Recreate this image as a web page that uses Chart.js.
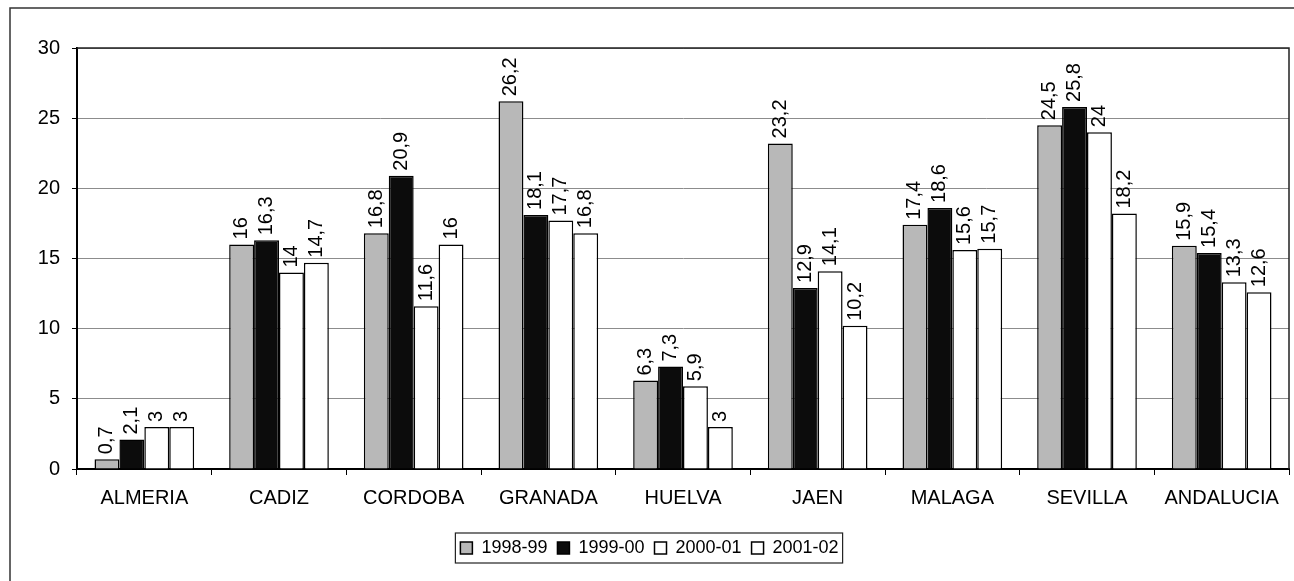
<!DOCTYPE html>
<html>
<head>
<meta charset="utf-8">
<script src="https://cdn.jsdelivr.net/npm/chart.js@4/dist/chart.umd.min.js"></script>
<style>
  html, body { margin: 0; padding: 0; background: #fff; }
  #wrap { width: 1294px; height: 581px; }
</style>
</head>
<body>
<div id="wrap"><canvas id="myChart" width="1294" height="581"></canvas></div>
<script>
// provinces
const categories = ['ALMERIA', 'CADIZ', 'CORDOBA', 'GRANADA', 'HUELVA', 'JAEN', 'MALAGA', 'SEVILLA', 'ANDALUCIA']

// series, one per school year
const s1998 = [0.7, 16, 16.8, 26.2, 6.3, 23.2, 17.4, 24.5, 15.9]
const s1999 = [2.1, 16.3, 20.9, 18.1, 7.3, 12.9, 18.6, 25.8, 15.4]
const s2000 = [3, 14, 11.6, 17.7, 5.9, 14.1, 15.6, 24, 13.3]
const s2001 = [3, 14.7, 16, 16.8, 3, 10.2, 15.7, 18.2, 12.6]

const seriesNames = ['1998-99', '1999-00', '2000-01', '2001-02']
const yTicks = [0, 5, 10, 15, 20, 25, 30]

const FONT = "'Liberation Sans', Arial, sans-serif"

// value labels written vertically above each bar
const barLabels = {
  id: 'barLabels',
  afterDatasetsDraw(chart) {
    const ctx = chart.ctx
    ctx.save()
    ctx.font = '20px ' + FONT
    ctx.fillStyle = '#000'
    ctx.textAlign = 'left'
    ctx.textBaseline = 'middle'
    chart.data.datasets.forEach((ds, i) => {
      const meta = chart.getDatasetMeta(i)
      meta.data.forEach((bar, j) => {
        const txt = String(ds.data[j]).replace('.', ',')
        ctx.save()
        ctx.translate(bar.x, bar.y - 5)
        ctx.rotate(-Math.PI / 2)
        ctx.fillText(txt, 0, 0)
        ctx.restore()
      })
    })
    ctx.restore()
  }
}

// frame lines: outer border, plot area top/right, legend box
const frames = {
  id: 'frames',
  beforeDraw(chart) {
    const ctx = chart.ctx
    ctx.save()
    ctx.fillStyle = '#fff'
    ctx.fillRect(0, 0, chart.width, chart.height)
    ctx.restore()
  },
  afterDraw(chart) {
    const ctx = chart.ctx
    const a = chart.chartArea
    ctx.save()
    ctx.strokeStyle = '#333'
    ctx.lineWidth = 1.5
    ctx.beginPath()
    ctx.moveTo(10, chart.height)
    ctx.lineTo(10, 8)
    ctx.lineTo(chart.width, 8)
    ctx.stroke()

    ctx.strokeStyle = '#222'
    ctx.lineWidth = 1.5
    ctx.beginPath()
    ctx.moveTo(a.left, a.top)
    ctx.lineTo(a.right, a.top)
    ctx.lineTo(a.right, a.bottom)
    ctx.stroke()

    const boxes = chart.legend.legendHitBoxes
    if (boxes && boxes.length) {
      let l = Infinity, r = -Infinity, t = Infinity, b = -Infinity
      boxes.forEach(h => {
        l = Math.min(l, h.left); r = Math.max(r, h.left + h.width)
        t = Math.min(t, h.top); b = Math.max(b, h.top + h.height)
      })
      ctx.strokeStyle = '#222'
      ctx.lineWidth = 1.2
      ctx.strokeRect(l - 5, t - 6, r - l + 9, b - t + 12)
    }
    ctx.restore()
  }
}

const data = {
  labels: categories,
  datasets: [
    { label: seriesNames[0], data: s1998, backgroundColor: '#b8b8b8', borderColor: '#000', borderWidth: 1.5 },
    { label: seriesNames[1], data: s1999, backgroundColor: '#0c0c0c', borderColor: '#000', borderWidth: 1.5 },
    { label: seriesNames[2], data: s2000, backgroundColor: '#fff', borderColor: '#000', borderWidth: 1.5 },
    { label: seriesNames[3], data: s2001, backgroundColor: '#fff', borderColor: '#000', borderWidth: 1.5 }
  ]
}

const config = {
  type: 'bar',
  data: data,
  options: {
    responsive: false,
    animation: false,
    devicePixelRatio: 1,
    layout: { padding: { left: 10, top: 48, right: 5, bottom: 14 } },
    datasets: { bar: { barPercentage: 1, categoryPercentage: 0.74 } },
    plugins: {
      legend: {
        position: 'bottom',
        labels: {
          color: '#000',
          font: { family: FONT, size: 18 },
          boxWidth: 12,
          boxHeight: 12,
          padding: 10
        }
      },
      tooltip: { enabled: false }
    },
    scales: {
      x: {
        grid: { drawOnChartArea: false, drawTicks: true, tickLength: 6, color: '#000', offset: true },
        border: { color: '#000', width: 2 },
        ticks: { color: '#000', font: { family: FONT, size: 20 }, padding: 11, maxRotation: 0 },
        afterFit(scale) { scale.height = 60 }
      },
      y: {
        min: 0,
        max: 30,
        afterBuildTicks(scale) { scale.ticks = yTicks.map(v => ({ value: v })) },
        grid: {
          color: (c) => c.tick && c.tick.value === 0 ? '#000' : '#8c8c8c',
          tickColor: '#000',
          tickLength: 5,
          lineWidth: 1
        },
        border: { color: '#000', width: 2 },
        ticks: { color: '#000', font: { family: FONT, size: 20 }, padding: 12 },
        afterFit(scale) { scale.width = 67 }
      }
    }
  },
  plugins: [frames, barLabels]
}

const myChart = new Chart(
  document.getElementById('myChart'),
  config
)
</script>
</body>
</html>
